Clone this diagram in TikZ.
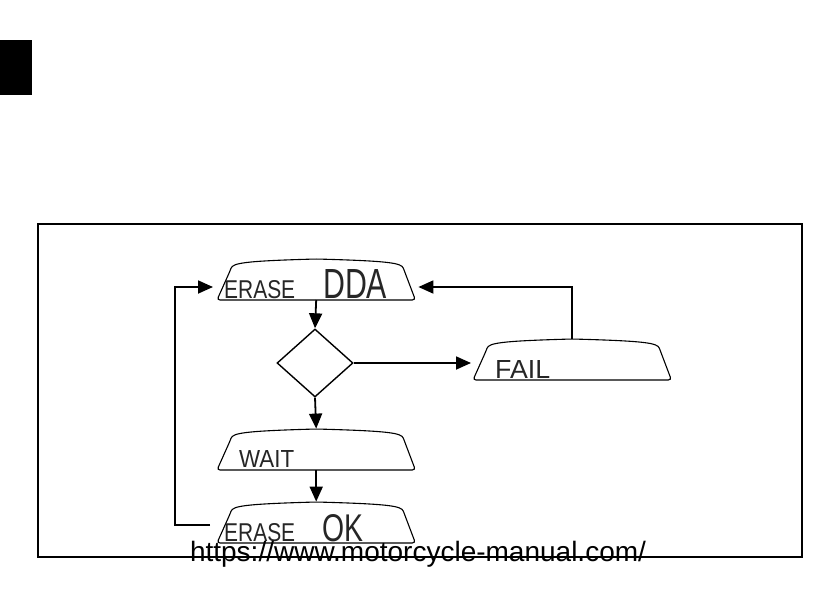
\documentclass[tikz,border=0pt]{standalone}
\usepackage{fontspec}
\usepackage{graphicx}
\setmainfont{Liberation Sans}
\usetikzlibrary{shapes.geometric,arrows.meta,calc}
\newcommand{\lcdtxt}[3]{\resizebox{#1}{#2}{#3}}
\tikzset{
  disp/.style={draw=none, inner sep=0pt, minimum width=198pt, minimum height=41pt, anchor=south west},
  outline/.style={line width=1.1pt, rounded corners=3pt},
  conn/.style={line width=1.8pt, -{Triangle[length=15pt,width=13pt]}},
  lcd/.style={anchor=base west, inner sep=0pt, text=black!85},
  decision/.style={diamond, draw, line width=1.4pt, inner sep=0pt, minimum width=76pt, minimum height=68pt}
}
\newcommand{\dispshape}[1]{%
  \draw[outline] ($(#1.south west)$) -- ($(#1.south west)+(13,-29)$)
    .. controls ($(#1.south west)+(16,-37)$) and ($(#1.south west)+(28,-39)$) .. ($(#1.south)+(0,-41)$)
    .. controls ($(#1.south east)+(-26,-39)$) and ($(#1.south east)+(-14,-37)$) .. ($(#1.south east)+(-11,-29)$)
    -- ($(#1.south east)$) -- cycle;}
\begin{document}
\begin{tikzpicture}[x=1pt,y=-1pt]
\useasboundingbox (0,0) rectangle (840,596);
\fill[black] (0,40) rectangle (32,95);
\draw[line width=1.1pt] (38,224) rectangle (802,557);

\node[disp] (dda) at (217,300) {};
\node[disp] (fail) at (473,380) {};
\node[disp] (wait) at (217,470) {};
\node[disp] (ok) at (217,543) {};
\dispshape{dda}
\dispshape{fail}
\dispshape{wait}
\dispshape{ok}

\node[decision] (dia) at (315,363) {};

\node[lcd] (t1) at (224,298) {\lcdtxt{71pt}{18pt}{ERASE}};
\node[lcd] (t2) at (323,298) {\lcdtxt{64pt}{29pt}{DDA}};
\node[lcd] (t3) at (495,378) {\lcdtxt{55pt}{18pt}{FAIL}};
\node[lcd] (t4) at (239,467) {\lcdtxt{55pt}{17pt}{WAIT}};
\node[lcd] (t5) at (224,541) {\lcdtxt{71pt}{18pt}{ERASE}};
\node[lcd] (t6) at (322,541) {\lcdtxt{41pt}{27pt}{OK}};

\coordinate (ddaL) at ($(dda.south west)+(-4,-13)$);
\coordinate (ddaR) at ($(dda.south east)+(3,-13)$);
\coordinate (failin) at ($(fail.south west)+(-2,-17)$);
\coordinate (okL) at ($(ok.south west)+(-7,-18)$);

\draw[conn] (dda.south) -- (dia.north);
\draw[conn] (dia.east) -- (dia.east -| failin);
\draw[conn] (dia.south) -- (wait.north);
\draw[conn] (wait.south) -- (ok.north);
\draw[conn] (fail.north) -- (fail.north |- ddaR) -- (ddaR);
\draw[conn] (okL) -- ++(-35,0) |- (ddaL);

\node[anchor=base, inner sep=0pt, font=\fontsize{28pt}{32pt}\selectfont] (url) at (418,561) {https://www.motorcycle-manual.com/};
\end{tikzpicture}
\end{document}
